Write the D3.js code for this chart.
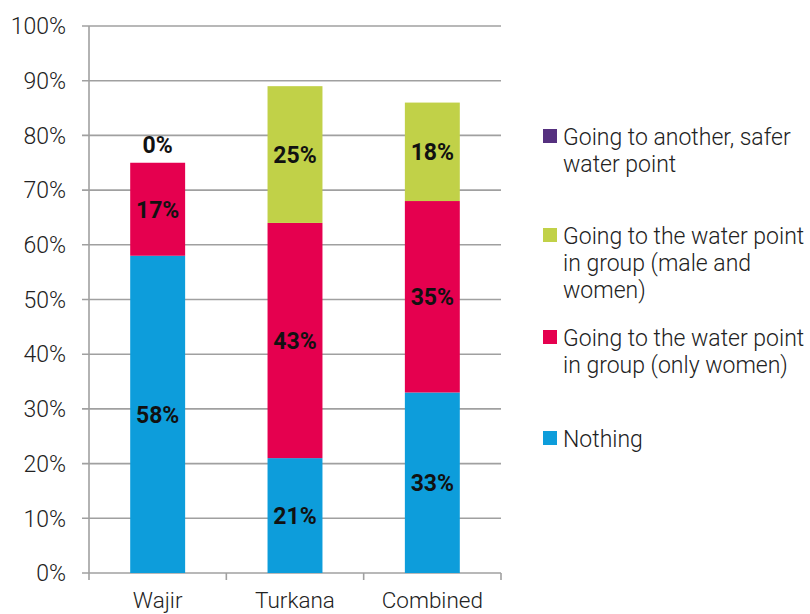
<!DOCTYPE html>
<html>
<head>
<meta charset="utf-8">
<script src="https://cdn.jsdelivr.net/npm/d3@7"></script>
<style>
  html, body { margin: 0; padding: 0; background: #fff; }
  svg { display: block; font-family: Roboto, "Noto Sans", sans-serif; }
</style>
</head>
<body>
<svg id="chart" width="810" height="614"></svg>
<script>
// Regions on the x axis
const categories = ["Wajir", "Turkana", "Combined"];

// Share of respondents (%) per protective strategy, stacked bottom to top
const nothing      = [58, 21, 33];
const onlyWomen    = [17, 43, 35];
const maleAndWomen = [0, 25, 18];
const saferPoint   = [0, 0, 0];

const seriesNames = [
  "Nothing",
  "Going to the water point in group (only women)",
  "Going to the water point in group (male and women)",
  "Going to another, safer water point"
];
const seriesColors = ["#0d9ddb", "#e5004f", "#c1d148", "#55307f"];

// Legend lines, top to bottom
const legendLines = [
  ["Going to another, safer", "water point"],
  ["Going to the water point", "in group (male and", "women)"],
  ["Going to the water point", "in group (only women)"],
  ["Nothing"]
];
const legendColors = ["#55307f", "#c1d148", "#e5004f", "#0d9ddb"];
const legendBaselines = [145, 244, 346, 447];

const yTicks = [0, 10, 20, 30, 40, 50, 60, 70, 80, 90, 100];

const svg = d3.select("#chart");

const x = d3.scaleBand()
  .domain(categories)
  .range([89, 501])
  .paddingInner(0.6)
  .paddingOuter(0.3);

const y = d3.scaleLinear().domain([0, 100]).range([573, 26]);

// Gridlines and y tick labels
const gridColor = "#a0a0a0";
svg.append("g").selectAll("line").data(yTicks).join("line")
  .attr("x1", 82).attr("x2", 501)
  .attr("y1", d => y(d)).attr("y2", d => y(d))
  .attr("stroke", gridColor).attr("stroke-width", 1.6);

svg.append("g").selectAll("text").data(yTicks).join("text")
  .attr("x", 66).attr("y", d => y(d))
  .attr("dy", "0.36em")
  .attr("text-anchor", "end")
  .attr("font-size", 23).attr("font-weight", 300)
  .attr("fill", "#222")
  .text(d => d + "%");

// Vertical axis line
svg.append("line")
  .attr("x1", 89).attr("x2", 89).attr("y1", y(100)).attr("y2", y(0))
  .attr("stroke", gridColor).attr("stroke-width", 1.6);

// Category separators below the baseline
const step = x.step();
const sepX = d3.range(categories.length + 1).map(i => 89 + i * step);
svg.append("g").selectAll("line").data(sepX).join("line")
  .attr("x1", d => d).attr("x2", d => d)
  .attr("y1", y(0)).attr("y2", y(0) + 7)
  .attr("stroke", gridColor).attr("stroke-width", 1.6);

// Stack the series
const table = categories.map((c, i) => ({
  cat: c,
  s0: nothing[i], s1: onlyWomen[i], s2: maleAndWomen[i], s3: saferPoint[i]
}));
const keys = ["s0", "s1", "s2", "s3"];
const stacked = d3.stack().keys(keys)(table);

const layers = svg.append("g").selectAll("g").data(stacked).join("g")
  .attr("fill", (d, i) => seriesColors[i]);

layers.selectAll("rect").data(d => d).join("rect")
  .attr("x", d => x(d.data.cat))
  .attr("width", x.bandwidth())
  .attr("y", d => y(d[1]))
  .attr("height", d => y(d[0]) - y(d[1]));

// Value labels: centred in segments; a zero share in the mixed-group series sits above the bar
const labels = [];
stacked.forEach((layer, li) => {
  if (li === 3) return;
  layer.forEach(d => {
    const v = d[1] - d[0];
    if (v > 0) {
      labels.push({ x: x(d.data.cat) + x.bandwidth() / 2, y: y((d[0] + d[1]) / 2), t: v + "%" });
    } else if (li === 2) {
      labels.push({ x: x(d.data.cat) + x.bandwidth() / 2, y: y(d[1]) - 18, t: v + "%" });
    }
  });
});

svg.append("g").selectAll("text").data(labels).join("text")
  .attr("x", d => d.x).attr("y", d => d.y)
  .attr("dy", "0.36em")
  .attr("text-anchor", "middle")
  .attr("font-size", 23).attr("font-weight", 700)
  .attr("fill", "#111")
  .text(d => d.t);

// Category labels
svg.append("g").selectAll("text").data(categories).join("text")
  .attr("x", d => x(d) + x.bandwidth() / 2)
  .attr("y", 608)
  .attr("text-anchor", "middle")
  .attr("font-size", 22.5).attr("font-weight", 300)
  .attr("fill", "#222")
  .text(d => d);

// Legend
const legend = svg.append("g");
legendLines.forEach((lines, i) => {
  const base = legendBaselines[i];
  legend.append("rect")
    .attr("x", 543).attr("y", base - 16)
    .attr("width", 14).attr("height", 14)
    .attr("fill", legendColors[i]);
  lines.forEach((ln, j) => {
    legend.append("text")
      .attr("x", 563).attr("y", base + j * 27)
      .attr("font-size", 23).attr("font-weight", 300)
      .attr("fill", "#222")
      .text(ln);
  });
});
</script>
</body>
</html>
